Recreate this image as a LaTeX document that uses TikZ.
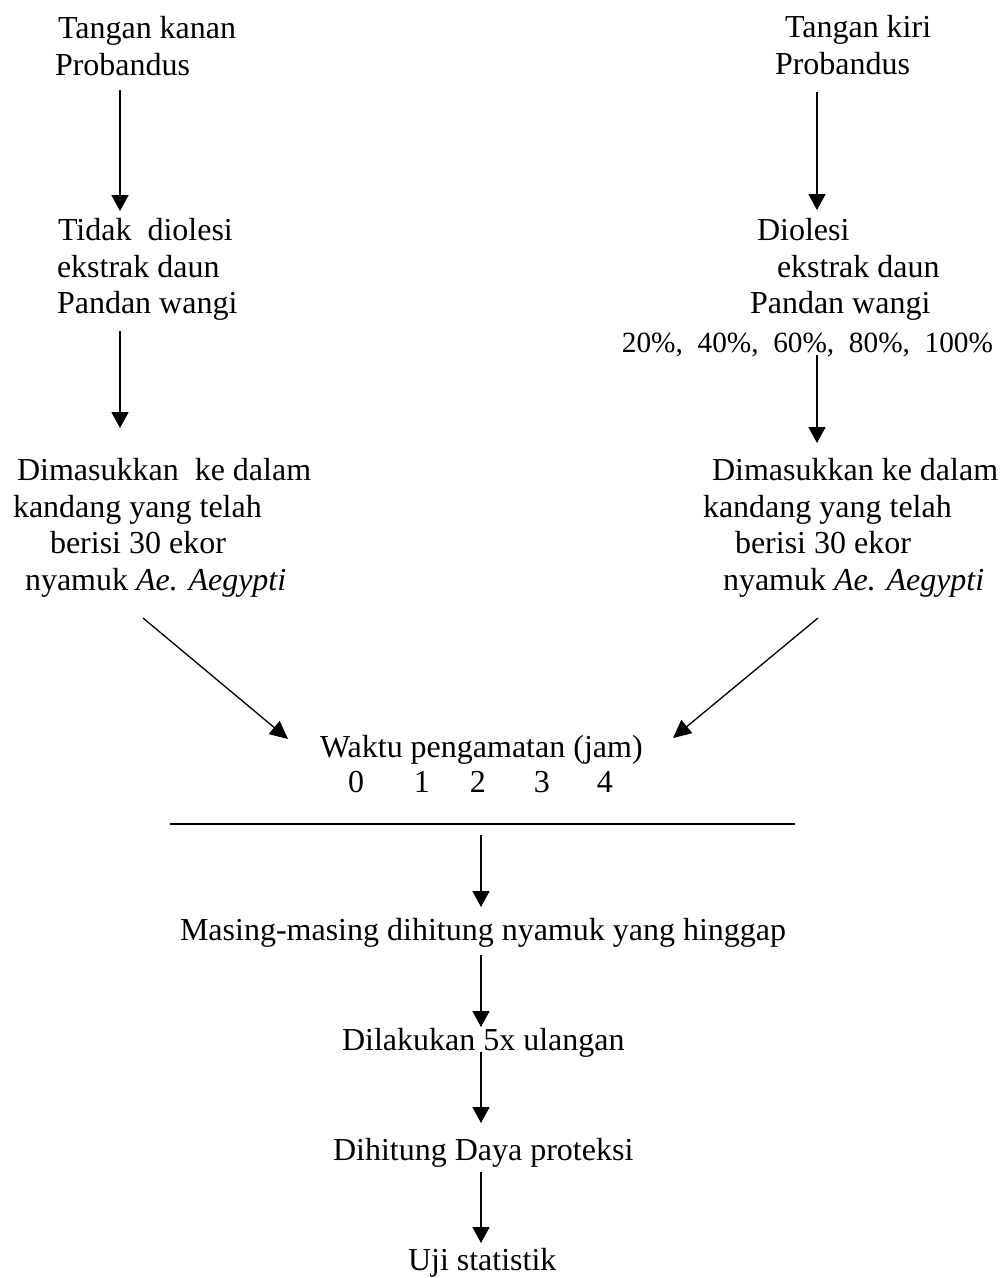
\documentclass[tikz,border=0pt]{standalone}
\usepackage{fontspec}
\setmainfont{Liberation Serif}
\usetikzlibrary{arrows.meta,calc}
\begin{document}
\begin{tikzpicture}[x=1pt,y=-1pt,
  txt/.style={inner sep=0pt,outer sep=0pt,anchor=base west,font=\fontsize{32}{36.7}\selectfont},
  smalltxt/.style={inner sep=0pt,outer sep=0pt,anchor=base east,font=\fontsize{29.3}{34}\selectfont},
  arr/.style={line width=1.8pt,-{Triangle[width=17pt,length=16pt]}},
  darr/.style={line width=1.3pt,-{Triangle[width=17pt,length=18pt]}},
  rule/.style={line width=1.5pt}]
\useasboundingbox (0,0) rectangle (1005,1278);
% left column
\node[txt] (tk1) at (58,38) {Tangan kanan};
\node[txt] (tk2) at (55,75) {Probandus};
\node[txt] (ld1) at (58,240) {Tidak\ \ diolesi};
\node[txt] (ld2) at (57,277) {ekstrak daun};
\node[txt] (ld3) at (57,313) {Pandan wangi};
\node[txt] (lm1) at (17,480) {Dimasukkan\ \ ke dalam};
\node[txt] (lm2) at (13,517) {kandang yang telah};
\node[txt] (lm3) at (50,553) {berisi 30 ekor};
\node[txt] (lm4) at (25,590) {nyamuk \textit{Ae. Aegypti}};
% right column
\node[txt] (tr1) at (785,37) {Tangan kiri};
\node[txt] (tr2) at (775,74) {Probandus};
\node[txt] (rd1) at (757,240) {Diolesi};
\node[txt] (rd2) at (777,277) {ekstrak daun};
\node[txt] (rd3) at (750,313) {Pandan wangi};
\node[smalltxt] (rd4) at (993,352) {20\%,\ \ 40\%,\ \ 60\%,\ \ 80\%,\ \ 100\%};
\node[txt] (rm1) at (712,480) {Dimasukkan ke dalam};
\node[txt] (rm2) at (703,517) {kandang yang telah};
\node[txt] (rm3) at (735,553) {berisi 30 ekor};
\node[txt] (rm4) at (723,590) {nyamuk \textit{Ae. Aegypti}};
% centre
\node[txt] (wk) at (320,757) {Waktu pengamatan (jam)};
\node[txt] (nums) at (348,792) {0\hspace{50pt}1\hspace{40pt}2\hspace{48pt}3\hspace{47pt}4};
\coordinate (hl1) at (170,824);
\coordinate (hl2) at (795,824);
\node[txt] (ms) at (180,940) {Masing-masing dihitung nyamuk yang hinggap};
\node[txt] (dl) at (342,1050) {Dilakukan 5x ulangan};
\node[txt] (dh) at (333,1160) {Dihitung Daya proteksi};
\node[txt] (uj) at (408,1270) {Uji statistik};
% connectors
\draw[arr] ($(tk2.base west)+(65,15)$) -- ($(ld1.base west)+(62,-29)$);
\draw[arr] ($(ld3.base west)+(63,18)$) -- ($(lm1.base west)+(103,-52)$);
\draw[arr] ($(tr2.base west)+(42,18)$) -- ($(rd1.base west)+(60,-30)$);
\draw[arr] ($(rd4.base east)+(-176,3)$) -- ($(rm1.base west)+(105,-37)$);
\draw[darr] ($(lm4.base west)+(118,28)$) -- ($(wk.base west)+(-32,-18)$);
\draw[darr] ($(rm4.base west)+(95,28)$) -- ($(wk.base west)+(353,-19)$);
\draw[rule] (hl1) -- (hl2);
\draw[arr] ($(hl1)+(311,11)$) -- ($(ms.base west)+(301,-33)$);
\draw[arr] ($(ms.base west)+(301,15)$) -- ($(dl.base west)+(139,-23)$);
\draw[arr] ($(dl.base west)+(139,2)$) -- ($(dh.base west)+(148,-37)$);
\draw[arr] ($(dh.base west)+(148,12)$) -- ($(uj.base west)+(73,-27)$);
\end{tikzpicture}
\end{document}
